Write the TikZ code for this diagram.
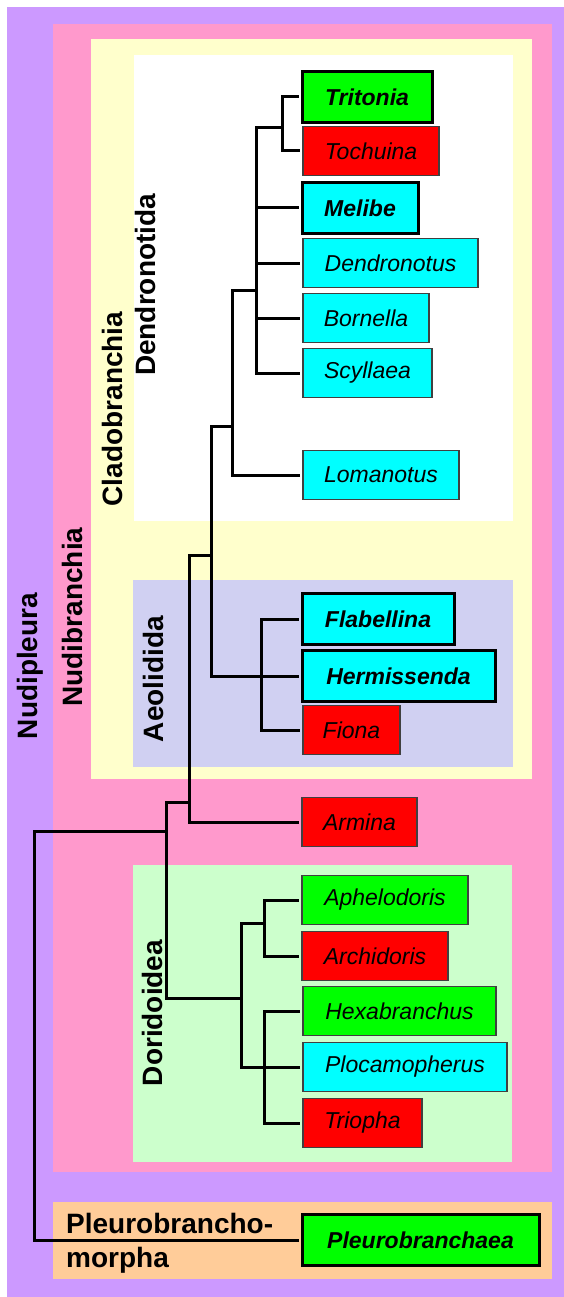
\documentclass[tikz,border=0pt]{standalone}
\usepackage{fontspec}
\setmainfont{Liberation Sans}
\definecolor{cpurple}{RGB}{204,153,255}
\definecolor{cpink}{RGB}{255,153,204}
\definecolor{cyellow}{RGB}{255,255,204}
\definecolor{clav}{RGB}{208,208,242}
\definecolor{cmint}{RGB}{204,255,204}
\definecolor{corange}{RGB}{255,204,153}
\definecolor{cgreen}{RGB}{0,255,0}
\definecolor{cred}{RGB}{255,0,0}
\definecolor{ccyan}{RGB}{0,255,255}
\begin{document}
\begin{tikzpicture}[x=1pt,y=-1pt,
  leaf/.style={draw=black!75, line width=1.2, anchor=west, minimum height=49,
    inner sep=0, outer sep=0, font=\fontsize{23}{27}\selectfont\itshape},
  key/.style={draw=black, line width=3, minimum height=51,
    font=\fontsize{23}{27}\selectfont\bfseries\itshape},
  grp/.style={font=\fontsize{28}{34}\selectfont\bfseries, inner sep=0},
  vgrp/.style={grp, rotate=90},
  br/.style={line width=3, line cap=rect},
  tip/.style={br, shorten >=5}]
\useasboundingbox (0,0) rectangle (564,1297);
\fill[white] (0,0) rectangle (564,1297);
% clade regions
\fill[cpurple] (7,7) rectangle (564,1297);
\fill[cpink] (53,24) rectangle (552,1172);
\fill[cyellow] (91,39) rectangle (532,779);
\fill[white] (134,55) rectangle (513,521);
\fill[clav] (133,580) rectangle (513,767);
\fill[cmint] (133,865) rectangle (512,1162);
\fill[corange] (53,1202) rectangle (552,1279);
% group labels
\node[vgrp] (lNudipleura) at (30,666) {Nudipleura};
\node[vgrp] (lNudibranchia) at (72,617) {Nudibranchia};
\node[vgrp] (lClado) at (112,409) {Cladobranchia};
\node[vgrp] (lDendro) at (145,285) {Dendronotida};
\node[vgrp] (lAeol) at (153,679) {Aeolidida};
\node[vgrp] (lDorid) at (152,1013) {Doridoidea};
\node[grp, anchor=west, align=left] (lPleuro) at (66,1243) {Pleurobrancho-\\morpha};
% leaves
\node[leaf, key, fill=cgreen, minimum width=130] (tritonia) at (302,97) {Tritonia};
\node[leaf, fill=cred, minimum width=136] (tochuina) at (303,151) {Tochuina};
\node[leaf, key, fill=ccyan, minimum width=116] (melibe) at (302,208) {Melibe};
\node[leaf, fill=ccyan, minimum width=175] (dendronotus) at (303,263) {Dendronotus};
\node[leaf, fill=ccyan, minimum width=126] (bornella) at (303,318) {Bornella};
\node[leaf, fill=ccyan, minimum width=129] (scyllaea) at (303,373) {Scyllaea};
\node[leaf, fill=ccyan, minimum width=156] (lomanotus) at (303,475) {Lomanotus};
\node[leaf, key, fill=ccyan, minimum width=152] (flabellina) at (302,619) {Flabellina};
\node[leaf, key, fill=ccyan, minimum width=193] (hermissenda) at (302,676) {Hermissenda};
\node[leaf, fill=cred, minimum width=97] (fiona) at (303,730) {Fiona};
\node[leaf, fill=cred, minimum width=115] (armina) at (302,822) {Armina};
\node[leaf, fill=cgreen, minimum width=166] (aphelodoris) at (302,900) {Aphelodoris};
\node[leaf, fill=cred, minimum width=146] (archidoris) at (302,956) {Archidoris};
\node[leaf, fill=cgreen, minimum width=193] (hexabranchus) at (303,1011) {Hexabranchus};
\node[leaf, fill=ccyan, minimum width=204] (plocamopherus) at (303,1067) {Plocamopherus};
\node[leaf, fill=cred, minimum width=119] (triopha) at (303,1123) {Triopha};
\node[leaf, key, fill=cgreen, minimum width=237] (pleurobranchaea) at (302,1240) {Pleurobranchaea};
% internal nodes
\coordinate (nT) at (282,128);
\coordinate (nD) at (256,290);
\coordinate (nDL) at (232,426);
\coordinate (nC) at (211,555);
\coordinate (nA) at (261,676);
\coordinate (nCA) at (189,802);
\coordinate (nN) at (166,831);
\coordinate (root) at (34,1000);
\coordinate (nDo) at (241,998);
\coordinate (nAA) at (264,923);
\coordinate (nH) at (264,1067);
% branches
\draw[tip] (nT) |- (tritonia.west);
\draw[tip] (nT) |- (tochuina.west);
\draw[br] (nD) |- (nT);
\draw[tip] (nD) |- (melibe.west);
\draw[tip] (nD) |- (dendronotus.west);
\draw[tip] (nD) |- (bornella.west);
\draw[tip] (nD) |- (scyllaea.west);
\draw[br] (nDL) |- (nD);
\draw[tip] (nDL) |- (lomanotus.west);
\draw[br] (nC) |- (nDL);
\draw[br] (nC) |- (nA);
\draw[tip] (nA) -- (hermissenda.west);
\draw[tip] (nA) |- (flabellina.west);
\draw[tip] (nA) |- (fiona.west);
\draw[br] (nCA) |- (nC);
\draw[tip] (nCA) |- (armina.west);
\draw[br] (nN) |- (nCA);
\draw[br] (nN) |- (nDo);
\draw[br] (root) |- (nN);
\draw[tip] (root) |- (pleurobranchaea.west);
\draw[br] (nDo) |- (nAA);
\draw[br] (nDo) |- (nH);
\draw[tip] (nAA) |- (aphelodoris.west);
\draw[tip] (nAA) |- (archidoris.west);
\draw[tip] (nH) -- (plocamopherus.west);
\draw[tip] (nH) |- (hexabranchus.west);
\draw[tip] (nH) |- (triopha.west);
\end{tikzpicture}
\end{document}
